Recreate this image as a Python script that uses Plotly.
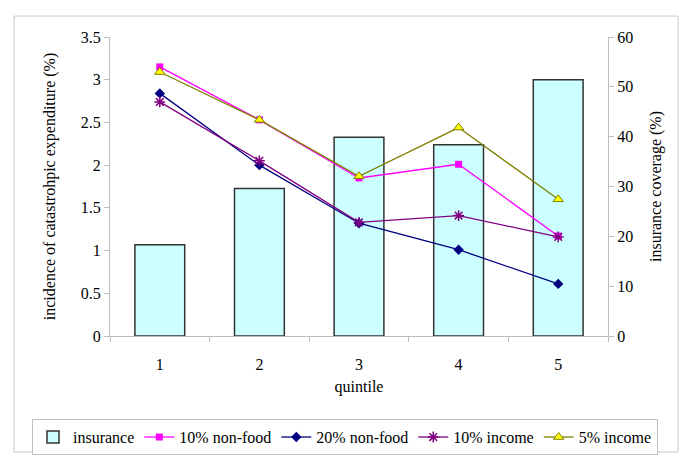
import plotly.graph_objects as go

quintiles = ["1", "2", "3", "4", "5"]
insurance = [18.3, 29.6, 39.9, 38.4, 51.4]
nonfood10 = [3.15, 2.53, 1.85, 2.01, 1.17]
nonfood20 = [2.84, 2.00, 1.32, 1.01, 0.61]
income10 = [2.74, 2.05, 1.33, 1.41, 1.16]
income5 = [3.09, 2.53, 1.87, 2.44, 1.60]

FONT = "Liberation Serif, Times New Roman, serif"
GRID = "#bdbdbd"
W, H = 685, 462

fig = go.Figure()
fig.add_trace(go.Bar(
    x=quintiles, y=insurance, name="insurance", yaxis="y", width=0.5,
    marker=dict(color="#CCFFFF", line=dict(color="#333333", width=1.5)),
))
fig.add_trace(go.Scatter(
    x=quintiles, y=nonfood10, name="10% non-food", yaxis="y2", mode="lines+markers",
    line=dict(color="#FF00FF", width=1.3),
    marker=dict(symbol="square", size=7, color="#FF00FF"),
))
fig.add_trace(go.Scatter(
    x=quintiles, y=nonfood20, name="20% non-food", yaxis="y2", mode="lines+markers",
    line=dict(color="#000080", width=1.3),
    marker=dict(symbol="diamond", size=8, color="#000080"),
))
fig.add_trace(go.Scatter(
    x=quintiles, y=income10, name="10% income", yaxis="y2", mode="lines+markers",
    line=dict(color="#800080", width=1.3),
    marker=dict(symbol="asterisk-open", size=9, color="#800080", line=dict(color="#800080", width=1.5)),
))
fig.add_trace(go.Scatter(
    x=quintiles, y=income5, name="5% income", yaxis="y2", mode="lines+markers",
    line=dict(color="#808000", width=1.3),
    marker=dict(symbol="triangle-up", size=9, color="#FFFF00", line=dict(color="#808000", width=1)),
))

fig.update_layout(
    width=W, height=H,
    margin=dict(l=0, r=0, t=37, b=126),
    paper_bgcolor="white", plot_bgcolor="white",
    font=dict(family=FONT, size=16, color="black"),
    showlegend=True,
    legend=dict(
        orientation="h", x=345 / W, xanchor="center",
        y=-0.278, yanchor="top",
        bordercolor="#c0c0c0", borderwidth=1,
        font=dict(family=FONT, size=16, color="black"),
        itemwidth=30, tracegroupgap=0,
    ),
    xaxis=dict(
        type="category", range=[-0.5, 4.5], showgrid=False,
        domain=[110 / W, 608 / W],
        showline=True, linecolor=GRID, linewidth=1,
        ticks="outside", tickson="boundaries", ticklen=5, tickcolor=GRID,
        ticklabelstandoff=14,
        title=dict(text="quintile", standoff=8, font=dict(size=16)),
    ),
    yaxis=dict(
        side="right", range=[0, 60], dtick=10, showgrid=False, zeroline=False,
        showline=True, linecolor=GRID, linewidth=1,
        ticks="outside", ticklen=5, tickcolor=GRID,
        title=dict(text="insurance coverage (%)", standoff=17, font=dict(size=16)),
    ),
    yaxis2=dict(
        side="left", overlaying="y", range=[0, 3.5], dtick=0.5, showgrid=False, zeroline=False,
        showline=True, linecolor=GRID, linewidth=1,
        ticks="outside", ticklen=5, tickcolor=GRID,
        title=dict(text="incidence of catastrohpic expenditure (%)", standoff=21, font=dict(size=16)),
    ),
    shapes=[dict(
        type="rect", xref="paper", yref="paper",
        x0=14 / W, x1=678 / W, y0=-0.388, y1=1.070,
        line=dict(color="#c8c8c8", width=1), fillcolor="rgba(0,0,0,0)", layer="below",
    )],
)

fig.write_html("out.html", config={"displayModeBar": False},
               post_script="document.body.style.margin='0px';")
